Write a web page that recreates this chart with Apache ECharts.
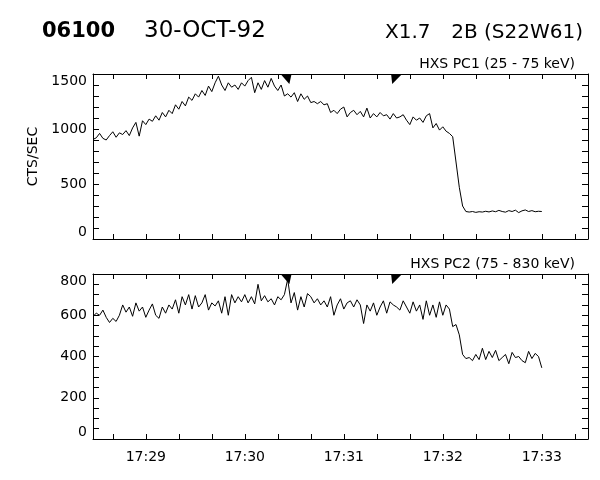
<!DOCTYPE html>
<html>
<head>
<meta charset="utf-8">
<script src="https://cdn.jsdelivr.net/npm/echarts@6/dist/echarts.min.js"></script>
<style>
  html, body { margin: 0; padding: 0; background: #fff; }
  #chart { width: 600px; height: 480px; }
</style>
</head>
<body>
<div id="chart"></div>
<script>
// sampling grid: first sample 17:28:28, one sample every 2 s
const sampleStart = '17:28:28';
const sampleStep = 2;

// HXS PC1 (25 - 75 keV), counts/s
const pc1 = [
  905, 920, 960, 915, 900, 940, 975, 925, 965, 950,
  985, 940, 1010, 1060, 935, 1075, 1040, 1090, 1070, 1120,
  1080, 1150, 1110, 1170, 1140, 1220, 1180, 1250, 1210, 1290,
  1260, 1320, 1290, 1350, 1305, 1390, 1340, 1420, 1480, 1400,
  1350, 1420, 1380, 1400, 1360, 1420, 1390, 1440, 1470, 1330,
  1420, 1360, 1440, 1380, 1460, 1390, 1350, 1400, 1300, 1320,
  1290, 1330, 1250, 1320, 1270, 1300, 1240, 1250, 1230, 1250,
  1220, 1230, 1150, 1170, 1140, 1180, 1200, 1110, 1150, 1170,
  1130, 1160, 1110, 1190, 1100, 1140, 1110, 1150, 1120, 1130,
  1090, 1140, 1100, 1110, 1130, 1080, 1040, 1110, 1080, 1100,
  1060, 1120, 1140, 1010, 1050, 990, 1020, 980, 960, 930,
  700, 470, 300, 250, 245, 250, 242, 248, 245, 252,
  246, 255, 248, 260, 250, 244, 258, 250, 262, 240,
  256, 264, 250, 258, 248, 252, 250
];

// HXS PC2 (75 - 830 keV), counts/s
const pc2 = [
  595, 610, 600, 625, 590, 565, 585, 570, 600, 650,
  615, 640, 595, 660, 620, 640, 590, 625, 655, 600,
  585, 640, 610, 650, 630, 675, 610, 690, 650, 700,
  630, 695, 640, 660, 700, 625, 660, 645, 670, 610,
  690, 600, 700, 660, 690, 665, 700, 660, 690, 655,
  750, 670, 695, 665, 680, 650, 690, 675, 700, 775,
  660, 710, 625, 690, 640, 705, 690, 660, 680, 650,
  670, 640, 690, 600, 650, 680, 630, 660, 670, 640,
  675, 650, 560, 650, 620, 660, 600, 640, 670, 610,
  665, 650, 640, 625, 670, 640, 610, 665, 620, 650,
  580, 670, 600, 650, 590, 665, 600, 650, 630, 545,
  555, 505, 410, 390, 395, 380, 410, 385, 440, 385,
  425, 395, 430, 380, 395, 410, 365, 420, 395, 400,
  380, 370, 425, 390, 415, 400, 345
];

// axis settings
const xStart = '17:28:28';
const xEnd = '17:33:28';
const xLabels = ['17:29', '17:30', '17:31', '17:32', '17:33'];
const xMinorStep = 20;
const y1Max = 1500, y1Step = 500, y1Minor = 5;
const y2Max = 800, y2Step = 200, y2Minor = 4;
const markerTimes = ['17:30:25', '17:31:32'];

const FONT = 'DejaVu Sans';
const TICK = '#000';

function toSec(s) {
  const p = s.split(':').map(Number);
  return p[0] * 3600 + p[1] * 60 + (p[2] || 0);
}
function fmt(v) {
  const h = Math.floor(v / 3600), m = Math.floor((v % 3600) / 60);
  return h + ':' + (m < 10 ? '0' : '') + m;
}

const xMin = toSec(xStart), xMax = toSec(xEnd);
const t0 = toSec(sampleStart);
const labelSecs = xLabels.map(toSec);
const tickSecs = [];
for (let s = Math.ceil(xMin / xMinorStep) * xMinorStep; s <= xMax; s += xMinorStep) tickSecs.push(s);

const pts1 = pc1.map((v, i) => [t0 + i * sampleStep, v]);
const pts2 = pc2.map((v, i) => [t0 + i * sampleStep, v]);

function xAx(grid, pos, labels) {
  return {
    type: 'value', gridIndex: grid, position: pos, min: xMin, max: xMax,
    axisLine: { show: true, onZero: false, lineStyle: { color: '#000', width: 1 } },
    axisTick: { show: true, inside: true, length: 5, customValues: tickSecs, lineStyle: { color: TICK, width: 1 } },
    axisLabel: { show: labels, customValues: labelSecs, formatter: fmt, color: '#000', fontSize: 14, fontFamily: FONT, margin: 11 },
    splitLine: { show: false }
  };
}
function yAx(grid, pos, max, step, minor, labels, name) {
  return {
    type: 'value', gridIndex: grid, position: pos, min: 0, max: max, interval: step,
    name: name || '', nameLocation: 'middle', nameGap: 50, nameRotate: 90,
    nameTextStyle: { color: '#000', fontSize: 14, fontFamily: FONT },
    axisLine: { show: true, onZero: false, lineStyle: { color: '#000', width: 1 } },
    axisTick: { show: true, inside: true, length: 6, lineStyle: { color: TICK, width: 1 } },
    minorTick: { show: true, splitNumber: minor, length: 6, lineStyle: { color: TICK, width: 1 } },
    axisLabel: { show: labels, color: '#000', fontSize: 14, fontFamily: FONT, margin: 6,
      formatter: v => String(v),
      verticalAlignMaxLabel: 'top', verticalAlignMinLabel: 'bottom' },
    splitLine: { show: false }, minorSplitLine: { show: false }
  };
}
function markers(xi, yi, ymax) {
  return {
    type: 'scatter', xAxisIndex: xi, yAxisIndex: yi, clip: false, silent: true,
    data: markerTimes.map((t, i) => ({
      value: [toSec(t), ymax],
      symbol: i === 0 ? 'path://M0,0 L10,0 L8,10 Z' : 'path://M0,0 L10,0 L1,10 Z'
    })),
    symbolSize: [11, 10], symbolOffset: [0, 5],
    itemStyle: { color: '#000', opacity: 1 }
  };
}
function line(xi, yi, pts) {
  return {
    type: 'line', xAxisIndex: xi, yAxisIndex: yi, data: pts,
    showSymbol: false, lineStyle: { color: '#000', width: 1 }, silent: true
  };
}

const chart = echarts.init(document.getElementById('chart'));
chart.setOption({
  animation: false,
  backgroundColor: '#fff',
  grid: [
    { left: 93, right: 12, top: 74, height: 165 },
    { left: 93, right: 12, top: 274, height: 165 }
  ],
  xAxis: [xAx(0, 'bottom', false), xAx(0, 'top', false), xAx(1, 'bottom', true), xAx(1, 'top', false)],
  yAxis: [
    yAx(0, 'left', y1Max, y1Step, y1Minor, true, 'CTS/SEC'),
    yAx(0, 'right', y1Max, y1Step, y1Minor, false),
    yAx(1, 'left', y2Max, y2Step, y2Minor, true),
    yAx(1, 'right', y2Max, y2Step, y2Minor, false)
  ],
  series: [
    line(0, 0, pts1), markers(1, 0, y1Max),
    line(2, 2, pts2), markers(3, 2, y2Max)
  ],
  graphic: [
    { type: 'text', left: 42, top: 21, style: { text: '06100', font: 'bold 21px "DejaVu Sans"', fill: '#000' } },
    { type: 'text', left: 144, top: 20, style: { text: '30-OCT-92', font: '23px "DejaVu Sans"', fill: '#000' } },
    { type: 'text', left: 385, top: 23, style: { text: 'X1.7', font: '20px "DejaVu Sans"', fill: '#000' } },
    { type: 'text', right: 17, top: 23, style: { text: '2B (S22W61)', font: '20px "DejaVu Sans"', fill: '#000' } },
    { type: 'text', right: 25, top: 57, style: { text: 'HXS PC1 (25 - 75 keV)', font: '14px "DejaVu Sans"', fill: '#000' } },
    { type: 'text', right: 25, top: 257, style: { text: 'HXS PC2 (75 - 830 keV)', font: '14px "DejaVu Sans"', fill: '#000' } }
  ]
});
</script>
</body>
</html>
